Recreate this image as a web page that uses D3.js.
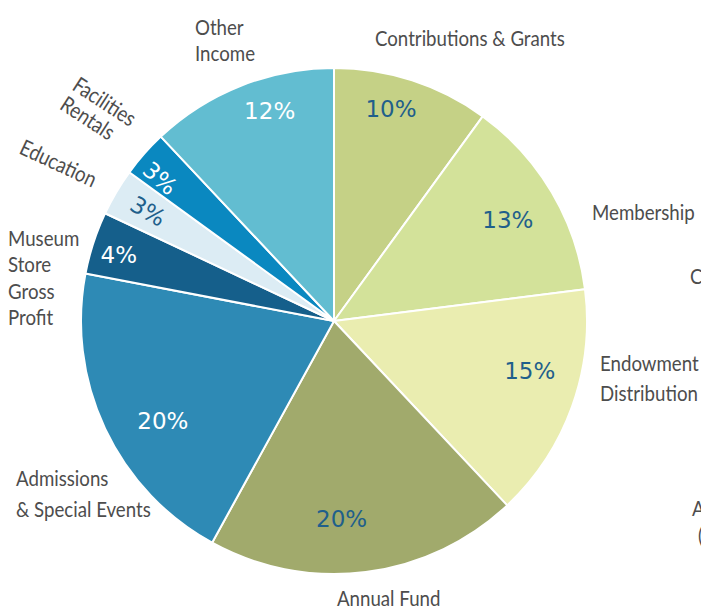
<!DOCTYPE html>
<html>
<head>
<meta charset="utf-8">
<script src="https://cdn.jsdelivr.net/npm/d3@7"></script>
<style>
  html, body { margin: 0; padding: 0; background: #fff; }
  svg { display: block; }
</style>
</head>
<body>
<svg id="chart" width="701" height="608"></svg>
<script>
// ---- data ----
const categories = ["Contributions & Grants", "Membership", "Endowment Distribution", "Annual Fund",
  "Admissions & Special Events", "Museum Store Gross Profit", "Education", "Facilities Rentals", "Other Income"];
const values = [10, 13, 15, 20, 20, 4, 3, 3, 12];
const colors = ["#c5d186", "#d3e29a", "#eaedb0", "#a1aa6c", "#2e8ab5", "#155f8b", "#dcecf4", "#0a88c0", "#62bdd1"];
const pctColors = ["#1f5f8b", "#1f5f8b", "#1f5f8b", "#1f5f8b", "#ffffff", "#ffffff", "#1f5f8b", "#ffffff", "#ffffff"];

// ---- layout: percent label radius and angle nudge (degrees) per slice ----
const pctRadius = [220, 201, 202, 198, 198, 225, 216, 225, 220];
const pctNudge = [-3, 0.5, -5.5, 5, -5, -1, 0, -2, 4.6];

// ---- layout (outer category labels) ----
const labelLayout = [
  { lines: ["Contributions & Grants"], x: 375, y: 46, rot: 0, lh: 26 },
  { lines: ["Membership"], x: 592, y: 220, rot: 0, lh: 26 },
  { lines: ["Endowment", "Distribution"], x: 600, y: 371, rot: 0, lh: 30 },
  { lines: ["Annual Fund"], x: 337, y: 606, rot: 0, lh: 26 },
  { lines: ["Admissions", "& Special Events"], x: 16, y: 486, rot: 0, lh: 31 },
  { lines: ["Museum", "Store", "Gross", "Profit"], x: 8, y: 246, rot: 0, lh: 26.3 },
  { lines: ["Education"], x: 18, y: 153, rot: 25, lh: 26 },
  { lines: ["Facilities", "Rentals"], x: 71, y: 89, rot: 33, lh: 23 },
  { lines: ["Other", "Income"], x: 195, y: 35, rot: 0, lh: 26 }
];
// cropped labels of a neighbouring chart at the right edge
const edgeLabels = [{ t: "C", x: 690, y: 284 }, { t: "A", x: 692, y: 516 }, { t: "(", x: 698, y: 543 }];

const svg = d3.select("#chart");
const cx = 334, cy = 321, R = 253;
const g = svg.append("g").attr("transform", `translate(${cx},${cy})`);

const pie = d3.pie().sort(null).value(d => d.v);
const data = pie(values.map((v, i) => ({ v, i })));
const arc = d3.arc().innerRadius(0).outerRadius(R);

g.selectAll("path.slice").data(data).join("path")
  .attr("class", "slice")
  .attr("d", arc)
  .attr("fill", d => colors[d.data.i])
  .attr("stroke", "#fff")
  .attr("stroke-width", 2)
  .attr("stroke-linejoin", "round");

g.selectAll("text.pct").data(data).join("text")
  .attr("class", "pct")
  .attr("transform", d => {
    const i = d.data.i;
    const midDeg = (d.startAngle + d.endAngle) / 2 * 180 / Math.PI;
    const a = (midDeg + pctNudge[i]) * Math.PI / 180;
    const r = pctRadius[i];
    const x = r * Math.sin(a), y = -r * Math.cos(a);
    const rot = d.data.v < 4 ? midDeg - 270 : 0;
    return `translate(${x},${y}) rotate(${rot})`;
  })
  .attr("text-anchor", "middle")
  .attr("dy", "0.36em")
  .attr("fill", d => pctColors[d.data.i])
  .style("font-family", "'DejaVu Sans', sans-serif")
  .style("font-size", "23px")
  .text(d => d.data.v + "%");

const catFont = "Lato, 'Liberation Sans', sans-serif";
const lab = svg.selectAll("text.cat").data(labelLayout).join("text")
  .attr("class", "cat")
  .attr("fill", "#4d4d4d")
  .style("font-family", catFont)
  .style("font-size", "22px");
lab.selectAll("tspan").data(d => d.lines.map((t, k) => ({ t, k, lh: d.lh }))).join("tspan")
  .attr("x", 0)
  .attr("y", d => d.k * d.lh)
  .text(d => d.t);

// horizontal condensing so that the font matches the narrow face of the reference
const refW = lab.filter((d, i) => i === 0).node().getComputedTextLength();
const sx = 190 / refW;
lab.attr("transform", d => `translate(${d.x},${d.y}) rotate(${d.rot}) scale(${sx},1)`);

svg.selectAll("text.edge").data(edgeLabels).join("text")
  .attr("class", "edge")
  .attr("transform", d => `translate(${d.x},${d.y}) scale(${sx},1)`)
  .attr("fill", "#4d4d4d")
  .style("font-family", catFont)
  .style("font-size", "22px")
  .text(d => d.t);
</script>
</body>
</html>
